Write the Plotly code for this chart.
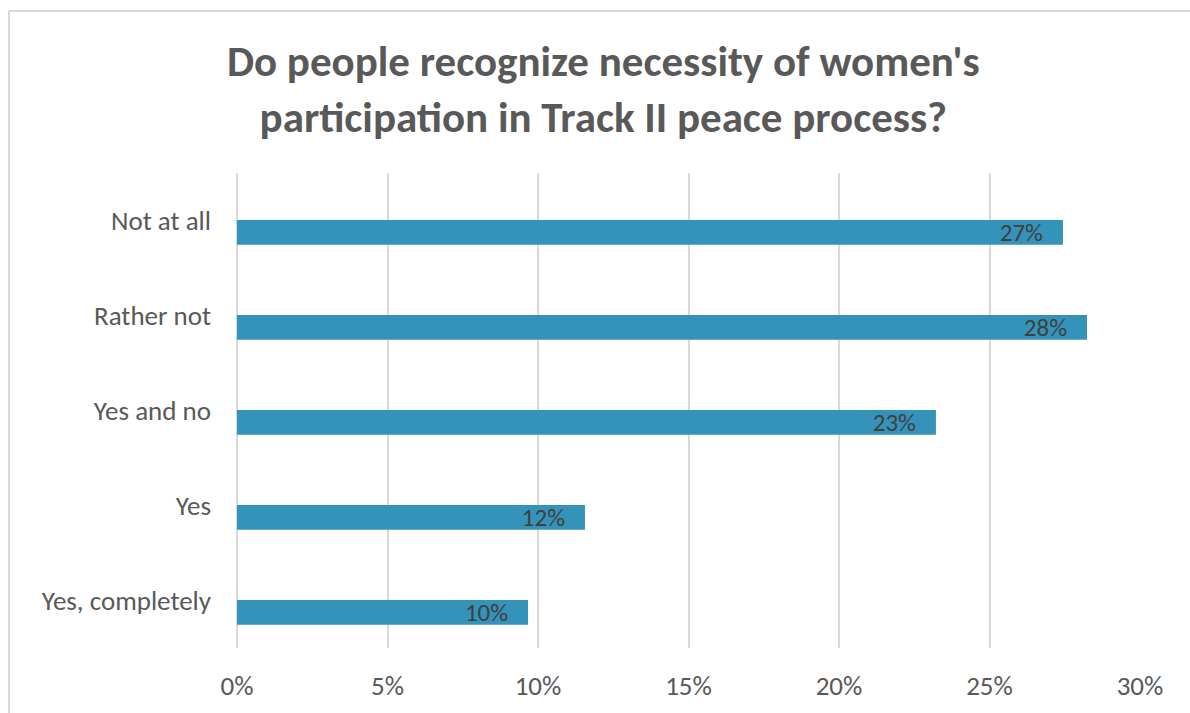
import plotly.graph_objects as go

# Survey answers, listed top to bottom
categories = ["Not at all", "Rather not", "Yes and no", "Yes", "Yes, completely"]
shares = [0.2744, 0.2824, 0.2322, 0.1156, 0.0967]

x_ticks = [0, 0.05, 0.10, 0.15, 0.20, 0.25, 0.30]
x_tick_labels = ["0%", "5%", "10%", "15%", "20%", "25%", "30%"]

title_text = "Do people recognize necessity of women's<br>participation in Track II peace process?"

W, H = 1190, 713
L, R, T, B = 237, 50, 173, 65
plot_w = W - L - R
plot_h = H - T - B

FONT = "Carlito, Liberation Sans Narrow, Lato, sans-serif"
GREY = "#595959"
GRID = "#d9d9d9"
NBSP = "\u00a0"

fig = go.Figure()
fig.add_trace(go.Bar(
    y=categories,
    x=shares,
    orientation="h",
    marker=dict(color="#3593BA", line=dict(width=0)),
    width=0.26,
    offset=-0.005,
    text=shares,
    texttemplate="%{x:.0%}" + NBSP * 3,
    textposition="inside",
    insidetextanchor="end",
    constraintext="none",
    textfont=dict(family=FONT, size=25, color="#404040"),
    hoverinfo="skip",
))

# Light frame around the chart area (top and left edges)
bx = (9 - L) / plot_w
by = (H - B - 11) / plot_h
fig.add_shape(type="line", xref="paper", yref="paper",
              x0=bx, x1=2, y0=by, y1=by,
              line=dict(color=GRID, width=2))
fig.add_shape(type="line", xref="paper", yref="paper",
              x0=bx, x1=bx, y0=by, y1=-2,
              line=dict(color=GRID, width=2))

fig.update_layout(
    width=W, height=H,
    margin=dict(l=L, r=R, t=T, b=B),
    paper_bgcolor="white",
    plot_bgcolor="white",
    showlegend=False,
    title=dict(
        text=title_text,
        x=0.507, xanchor="center",
        y=1 - 76 / H, yanchor="top", yref="container",
        font=dict(family=FONT, size=43, color=GREY, weight="bold"),
    ),
    xaxis=dict(
        range=[0, 0.30],
        tickvals=x_ticks,
        ticktext=x_tick_labels,
        showgrid=True,
        gridcolor=GRID,
        gridwidth=2,
        zeroline=True,
        zerolinecolor=GRID,
        zerolinewidth=2,
        showline=False,
        ticks="",
        ticklabelstandoff=19,
        tickfont=dict(family=FONT, size=27, color=GREY),
    ),
    yaxis=dict(
        type="category",
        categoryorder="array",
        categoryarray=categories,
        autorange="reversed",
        showgrid=False,
        zeroline=False,
        showline=False,
        ticks="",
        ticklabelstandoff=25,
        tickfont=dict(family=FONT, size=27, color=GREY),
    ),
)

fig.write_html("out.html")
